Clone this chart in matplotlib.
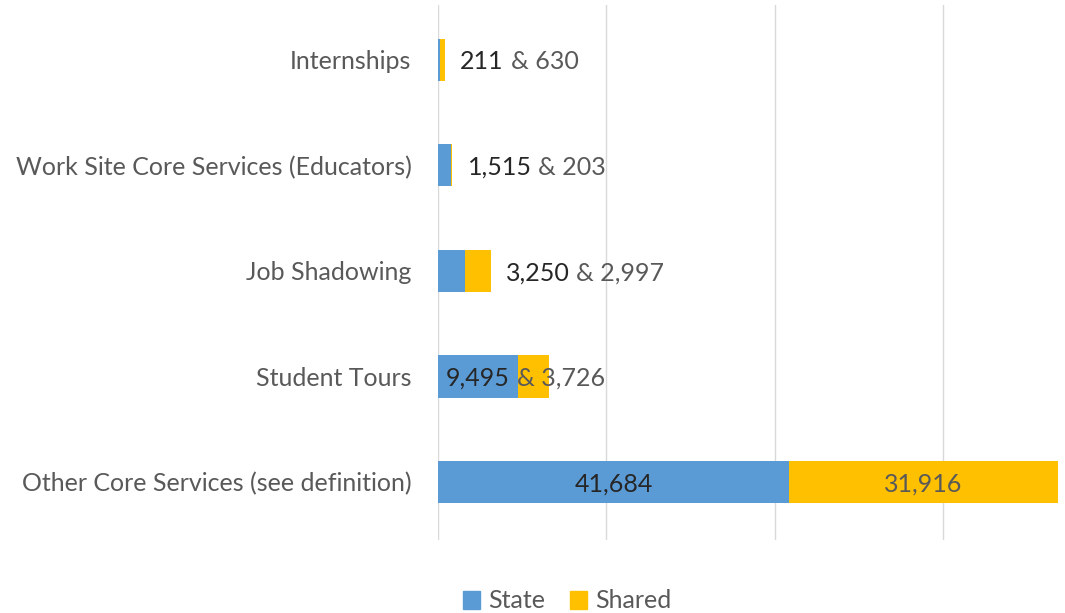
import matplotlib
matplotlib.use('Agg')
import matplotlib.pyplot as plt
from matplotlib.patches import Patch

plt.rcParams['font.family'] = ['Lato', 'DejaVu Sans']

categories = ['Internships', 'Work Site Core Services (Educators)', 'Job Shadowing',
              'Student Tours', 'Other Core Services (see definition)']
state = [211, 1515, 3250, 9495, 41684]
shared = [630, 203, 2997, 3726, 31916]

BLUE = '#5B9BD5'
GOLD = '#FFC000'
DARK = '#262626'
GRAY = '#595959'
FS = 18

fig = plt.figure(figsize=(10.65, 6.13), dpi=100)
ax = fig.add_axes([438 / 1065, 1 - 540 / 613, 620 / 1065, 535 / 613])

y = list(range(len(categories)))
ax.barh(y, state, height=0.4, color=BLUE)
ax.barh(y, shared, left=state, height=0.4, color=GOLD)

ax.set_xlim(0, 73600)
ax.set_ylim(4.55, -0.52)
ax.set_xticks([0, 20000, 40000, 60000])
ax.xaxis.grid(True, color='#D9D9D9', linewidth=1)
ax.set_axisbelow(True)
ax.tick_params(axis='x', length=0, labelbottom=False)
ax.tick_params(axis='y', length=0, pad=19, labelsize=FS, labelcolor=GRAY)
ax.set_yticks(y)
ax.set_yticklabels(categories)
for s in ax.spines.values():
    s.set_visible(False)

fig.canvas.draw()
renderer = fig.canvas.get_renderer()

# data labels: inside the segment when wide enough, otherwise after the bar
for i in y:
    st, sh = state[i], shared[i]
    total = st + sh
    if sh > 8000:
        ax.annotate(f'{st:,}', xy=(st / 2, i), xytext=(0, -2), textcoords='offset pixels',
                    ha='center', va='center', fontsize=FS, color=DARK)
        ax.annotate(f'{sh:,}', xy=(st + sh / 2, i), xytext=(0, -2), textcoords='offset pixels',
                    ha='center', va='center', fontsize=FS, color=GRAY)
        continue
    if st > 8000:
        t = ax.annotate(f'{st:,}', xy=(st / 2, i), xytext=(0, -2), textcoords='offset pixels',
                        ha='center', va='center', fontsize=FS, color=DARK)
    else:
        t = ax.annotate(f'{st:,}', xy=(total, i), xytext=(15, -2), textcoords='offset pixels',
                        ha='left', va='center', fontsize=FS, color=DARK)
    bb = t.get_window_extent(renderer)
    ax.annotate(f'& {sh:,}', xy=(bb.x1 + 7, (bb.y0 + bb.y1) / 2), xycoords='figure pixels',
                ha='left', va='center', fontsize=FS, color=GRAY)

handles = [Patch(color=BLUE, label='State'), Patch(color=GOLD, label='Shared')]
fig.legend(handles=handles, loc='center', bbox_to_anchor=(567 / 1065, 1 - 601 / 613),
           ncol=2, frameon=False, fontsize=FS, labelcolor=GRAY, handlelength=0.7,
           handleheight=0.7, handletextpad=0.3, columnspacing=1.0)

fig.savefig('out.png', dpi=100)
